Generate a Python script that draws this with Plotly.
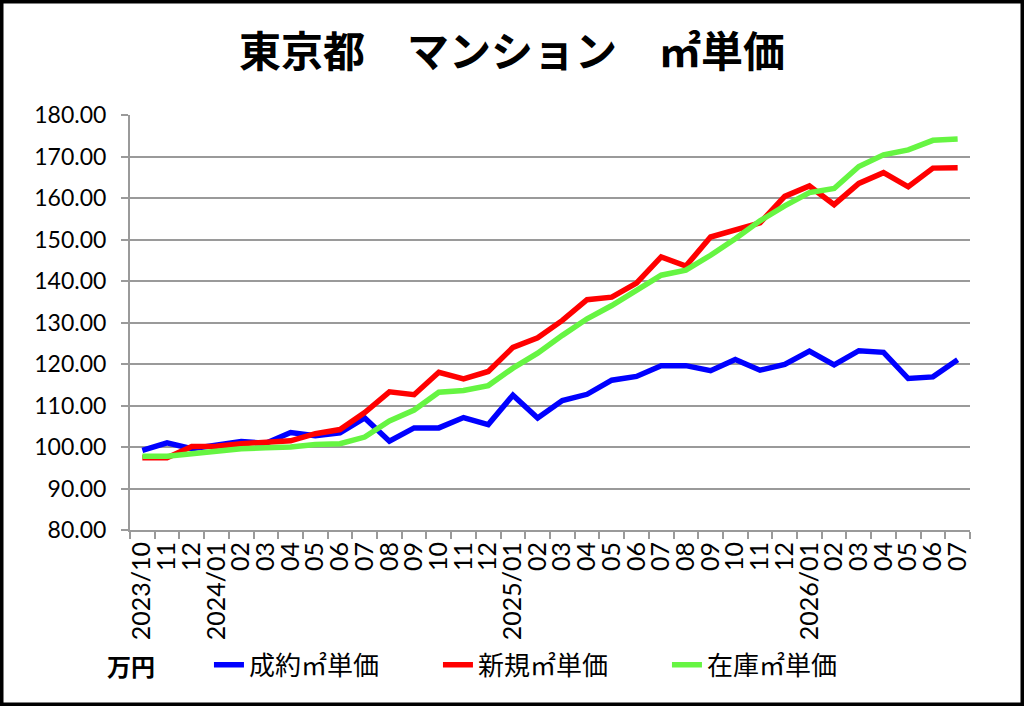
import plotly.graph_objects as go

# months (category labels as shown on the x axis)
months = ["2023/10", "11", "12",
          "2024/01", "02", "03", "04", "05", "06", "07", "08", "09", "10", "11", "12",
          "2025/01", "02", "03", "04", "05", "06", "07", "08", "09", "10", "11", "12",
          "2026/01", "02", "03", "04", "05", "06", "07"]
# use unique keys so repeated month numbers stay separate categories
cats = [f"{i}" for i in range(len(months))]

seiyaku = [99.2, 101.0, 99.6, 100.4, 101.3, 100.9, 103.5, 102.7, 103.4, 107.0,
           101.4, 104.6, 104.6, 107.1, 105.4, 112.5, 107.0, 111.2, 112.7, 116.1,
           117.0, 119.6, 119.6, 118.4, 121.1, 118.5, 119.9, 123.1, 119.8, 123.2,
           122.8, 116.5, 116.9, 121.0]
shinki = [97.4, 97.4, 100.1, 100.2, 100.8, 101.0, 101.5, 103.2, 104.2, 108.3,
          113.3, 112.6, 118.0, 116.4, 118.2, 124.0, 126.3, 130.5, 135.5, 136.1,
          139.5, 145.8, 143.6, 150.6, 152.3, 154.0, 160.4, 162.9, 158.4, 163.5,
          166.1, 162.7, 167.2, 167.3]
zaiko = [97.8, 97.8, 98.4, 99.0, 99.6, 99.8, 100.0, 100.6, 100.8, 102.4,
         106.3, 108.9, 113.2, 113.6, 114.8, 119.0, 122.6, 126.9, 130.9, 134.1,
         137.7, 141.4, 142.6, 146.2, 150.2, 154.5, 158.1, 161.3, 162.3, 167.6,
         170.4, 171.6, 173.9, 174.2]

series = [
    ("成約㎡単価", seiyaku, "#0000FF"),
    ("新規㎡単価", shinki, "#FF0000"),
    ("在庫㎡単価", zaiko, "#66F542"),
]

jp = "Noto Sans CJK JP"
num = "Lato"
grey = "#9a9a9a"

fig = go.Figure()
for name, vals, col in series:
    fig.add_trace(go.Scatter(x=cats, y=vals, name=name, mode="lines",
                             line=dict(color=col, width=5.5)))

fig.update_layout(
    width=1024, height=706,
    margin=dict(l=130, r=54, t=115, b=176, autoexpand=False),
    plot_bgcolor="white", paper_bgcolor="white",
    title=dict(text="<b>東京都　マンション　㎡単価</b>", xref="container", x=0.5,
               xanchor="center", y=0.926, yanchor="middle",
               font=dict(family=jp, size=42, color="black")),
    showlegend=True,
    legend=dict(orientation="h", x=0.094, y=-0.325, xanchor="left", yanchor="middle",
                font=dict(family=jp, size=26, color="black"),
                entrywidth=184, entrywidthmode="pixels",
                bgcolor="rgba(0,0,0,0)", itemclick=False),
    xaxis=dict(type="category", range=[-0.5, len(cats) - 0.5],
               tickmode="array", tickvals=cats, ticktext=months,
               tickangle=-90, tickson="boundaries", ticks="outside", ticklen=7,
               tickcolor=grey, tickwidth=2,
               showline=True, linecolor=grey, linewidth=2, showgrid=False,
               tickfont=dict(family=num, size=25, color="black")),
    yaxis=dict(range=[80, 180], dtick=10, tickformat=".2f",
               ticks="outside", ticklen=7, tickcolor=grey, tickwidth=2,
               ticklabelstandoff=10,
               showline=True, linecolor=grey, linewidth=2,
               showgrid=True, gridcolor=grey, gridwidth=2, zeroline=False,
               tickfont=dict(family=num, size=23, color="black")),
)

# unit label next to legend
fig.add_annotation(text="<b>万円</b>", xref="paper", yref="paper",
                   x=(131 - 130) / 840, y=(530 - 665) / 415,
                   xanchor="center", yanchor="middle",
                   showarrow=False, font=dict(family=jp, size=24, color="black"))

# black frame around the whole picture
fig.add_shape(type="rect", xref="paper", yref="paper",
              x0=(1.5 - 130) / 840, x1=(1022.5 - 130) / 840,
              y0=(530 - 704.5) / 415, y1=(530 - 1.5) / 415,
              line=dict(color="black", width=4), layer="above")

fig.write_html("out.html", config={"displayModeBar": False},
               post_script="document.body.style.margin='0px';"
                           "document.body.style.overflow='hidden';")
